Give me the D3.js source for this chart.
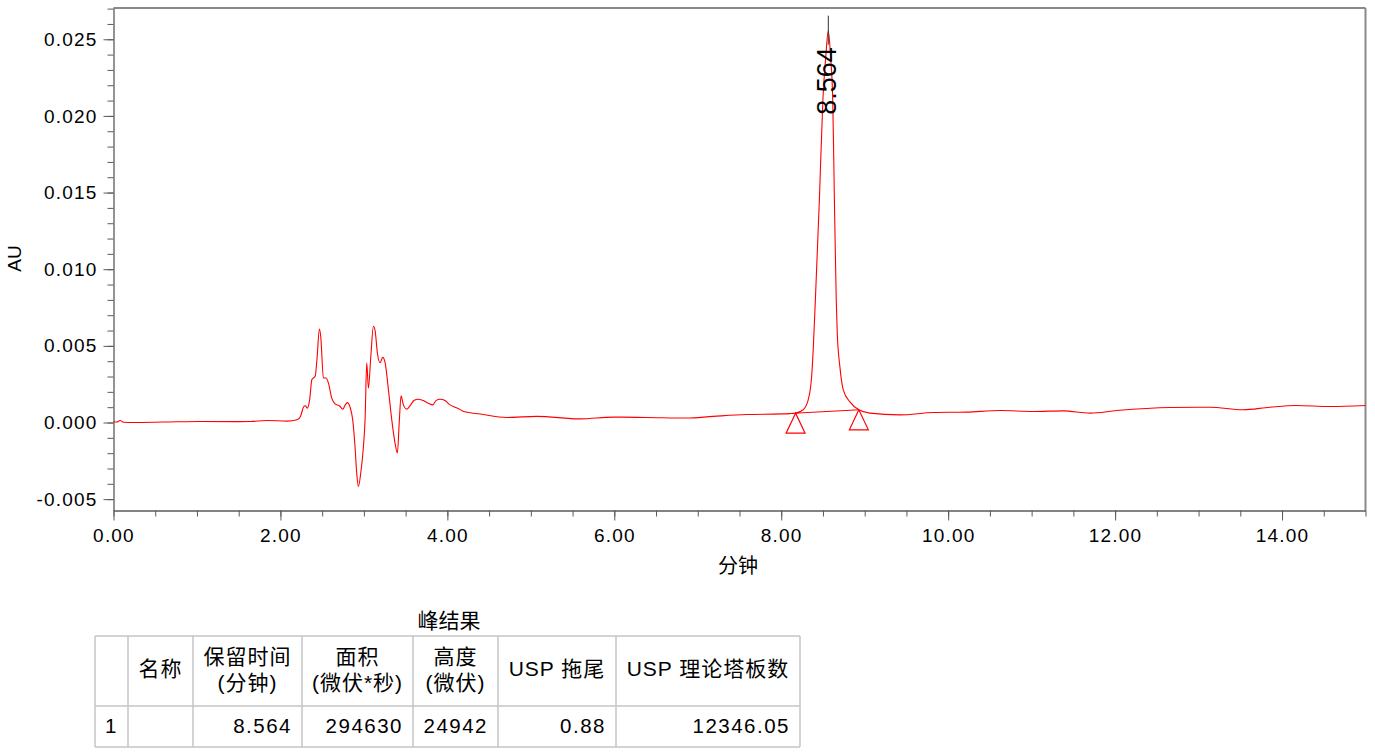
<!DOCTYPE html>
<html><head><meta charset="utf-8">
<script src="https://cdn.jsdelivr.net/npm/d3@7"></script>
<style>
body{margin:0;background:#fff}
svg{display:block}
text{font-family:"Liberation Sans",Arial,sans-serif;fill:#000}
.cjk{font-family:"Liberation Sans","Noto Sans CJK SC",sans-serif}
</style>
</head><body>
<svg id="c" width="1375" height="755"></svg>
<script>
// ---------- data ----------
const times = [
  0.00,0.04,0.08,0.12,0.24,0.60,1.04,1.50,1.64,1.84,2.08,2.20,2.24,2.28,2.30,2.32,2.35,2.377,2.417,2.437,
  2.467,2.483,2.515,2.547,2.575,2.615,2.655,2.707,2.747,2.775,2.802,2.834,2.866,2.894,2.914,2.934,2.962,2.994,3.014,3.034,
  3.054,3.083,3.114,3.134,3.162,3.194,3.226,3.254,3.294,3.334,3.373,3.401,3.425,3.445,3.473,3.513,3.551,3.599,3.651,3.711,
  3.771,3.824,3.864,3.912,3.972,4.031,4.092,4.144,4.196,4.395,4.714,5.071,5.59,5.99,6.388,6.867,7.186,7.585,7.904,8.00,
  8.10,8.172,8.263,8.323,8.364,8.383,8.409,8.457,8.499,8.535,8.564,8.590,8.617,8.637,8.659,8.671,8.703,8.743,8.823,8.93,
  9.062,9.421,9.82,10.22,10.62,11.02,11.38,11.70,12.02,12.66,13.14,13.53,13.853,14.17,14.57,15.00
];
const values = [
  0.00005,0.00003,0.00013,0.00002,0.00000,0.00003,0.00007,0.00006,0.00007,0.00013,0.00009,0.00018,0.00040,0.00104,0.00109,0.00094,0.00148,0.00280,0.00304,0.00408,
  0.00609,0.00561,0.00290,0.00290,0.00257,0.00159,0.00122,0.00109,0.00087,0.00113,0.00130,0.00100,0.00017,-0.00160,-0.00331,-0.00418,-0.00331,-0.00160,0.00017,0.00390,
  0.00224,0.00432,0.00628,0.00600,0.00452,0.00390,0.00425,0.00390,0.00213,0.00017,-0.00134,-0.00199,0.00017,0.00174,0.00115,0.00087,0.00108,0.00143,0.00152,0.00143,
  0.00126,0.00115,0.00143,0.00152,0.00143,0.00115,0.00100,0.00087,0.00072,0.00055,0.00033,0.00040,0.00024,0.00035,0.00033,0.00029,0.00040,0.00052,0.00055,0.00056,
  0.00058,0.00061,0.00083,0.00148,0.00298,0.00474,0.00800,0.01452,0.02104,0.02398,0.02556,0.02398,0.02104,0.01452,0.00800,0.00585,0.00363,0.00213,0.00135,0.00083,
  0.00061,0.00050,0.00065,0.00068,0.00078,0.00072,0.00076,0.00061,0.00078,0.00098,0.00100,0.00083,0.00100,0.00111,0.00104,0.00111
];
const peakTimes = [8.564];
const peakApex = [0.02556];
const peakLabels = ["8.564"];
const markerTimes = [8.172, 8.93];
const markerValues = [0.00061, 0.00083];

const xTicks = [0, 2, 4, 6, 8, 10, 12, 14];
const xTickLabels = ["0.00","2.00","4.00","6.00","8.00","10.00","12.00","14.00"];
const yTicks = [-0.005, 0, 0.005, 0.010, 0.015, 0.020, 0.025];
const yTickLabels = ["-0.005","0.000","0.005","0.010","0.015","0.020","0.025"];
const xLabel = "分钟";
const yLabel = "AU";

const tableTitle = "峰结果";
const tableHeaders = [[""],["名称"],["保留时间","(分钟)"],["面积","(微伏*秒)"],["高度","(微伏)"],["USP 拖尾"],["USP 理论塔板数"]];
const tableRow = ["1","","8.564","294630","24942","0.88","12346.05"];

// ---------- layout ----------
const svg = d3.select("#c");
const L = 113.5, R = 1365.5, T = 8, B = 510.5;
const x = d3.scaleLinear().domain([0, 15]).range([L, R]);
const y = d3.scaleLinear().domain([-0.00574, 0.02704]).range([B, T]);
const axisColor = "#5a5a5a";
const fontAxis = "19px";

// frame top/right
svg.append("line").attr("x1", L).attr("x2", R).attr("y1", T).attr("y2", T)
  .attr("stroke", "#8a8a8a").attr("stroke-width", 2);
svg.append("line").attr("x1", R).attr("x2", R).attr("y1", T).attr("y2", B)
  .attr("stroke", "#8a8a8a").attr("stroke-width", 2);

// minor ticks
const gxm = svg.append("g").attr("transform", `translate(0,${B})`)
  .call(d3.axisBottom(x).tickValues(d3.range(0, 15.001, 0.5)).tickSize(6).tickFormat("").tickSizeOuter(0));
gxm.select(".domain").remove();
const gym = svg.append("g").attr("transform", `translate(${L},0)`)
  .call(d3.axisLeft(y).tickValues(d3.range(-5, 27.5, 1).map(d => d / 1000)).tickSize(6).tickFormat("").tickSizeOuter(0));
gym.select(".domain").remove();
[gxm, gym].forEach(g => g.selectAll("line").attr("stroke", axisColor));

// major axes
const gx = svg.append("g").attr("transform", `translate(0,${B})`)
  .call(d3.axisBottom(x).tickValues(xTicks).tickSize(10).tickSizeOuter(0)
    .tickFormat((d, i) => xTickLabels[i]).tickPadding(8));
const gy = svg.append("g").attr("transform", `translate(${L},0)`)
  .call(d3.axisLeft(y).tickValues(yTicks).tickSize(10).tickSizeOuter(0)
    .tickFormat((d, i) => yTickLabels[i]).tickPadding(6));
[gx, gy].forEach(g => {
  g.select(".domain").attr("stroke", axisColor).attr("stroke-width", 1.3);
  g.selectAll(".tick line").attr("stroke", axisColor);
  g.selectAll("text").attr("font-size", fontAxis).attr("fill", "#000")
    .attr("font-family", "Liberation Sans, Arial, sans-serif").style("letter-spacing", "1.2px");
});

// axis titles
svg.append("text").attr("class", "cjk").attr("x", 738).attr("y", 573)
  .attr("text-anchor", "middle").attr("font-size", "20px").text(xLabel);
svg.append("text").attr("transform", `translate(21,${y(0.0107)}) rotate(-90)`)
  .attr("text-anchor", "middle").attr("font-size", "19px").text(yLabel);

// trace
const pts = times.map((t, i) => [t, values[i]]);
svg.append("path").datum(pts)
  .attr("fill", "none").attr("stroke", "#ff0000").attr("stroke-width", 1.1)
  .attr("d", d3.line().x(d => x(d[0])).y(d => y(d[1])).curve(d3.curveMonotoneX));

// baseline between markers
svg.append("line")
  .attr("x1", x(markerTimes[0])).attr("y1", y(markerValues[0]))
  .attr("x2", x(markerTimes[1])).attr("y2", y(markerValues[1]))
  .attr("stroke", "#ff0000").attr("stroke-width", 1);
// triangle markers
markerTimes.forEach((t, i) => {
  const px = x(t), py = y(markerValues[i]);
  svg.append("path")
    .attr("d", `M${px},${py} L${px - 9.5},${py + 20} L${px + 9.5},${py + 20} Z`)
    .attr("fill", "none").attr("stroke", "#ff0000").attr("stroke-width", 1.2);
});

// peak label
peakTimes.forEach((t, i) => {
  const px = x(t), py = y(peakApex[i]);
  svg.append("line").attr("x1", px).attr("x2", px).attr("y1", py + 14).attr("y2", py - 15)
    .attr("stroke", "#333").attr("stroke-width", 1);
  svg.append("text").attr("transform", `translate(${px + 7.5},${py + 84}) rotate(-90)`)
    .attr("text-anchor", "start").attr("font-size", "27px").text(peakLabels[i]);
});

// ---------- table ----------
const colEdges = [95, 128, 193, 302, 413, 498, 616, 800];
const tTop = 636, tMid = 706, tBot = 747;
const lineColor = "#c4c4c4";
svg.append("text").attr("class", "cjk").attr("x", 449).attr("y", 628)
  .attr("text-anchor", "middle").attr("font-size", "21px").text(tableTitle);
[tTop, tMid, tBot].forEach(yy => svg.append("line").attr("x1", colEdges[0]).attr("x2", colEdges[colEdges.length - 1])
  .attr("y1", yy).attr("y2", yy).attr("stroke", lineColor).attr("stroke-width", 1.5));
colEdges.forEach(xx => svg.append("line").attr("x1", xx).attr("x2", xx).attr("y1", tTop).attr("y2", tBot)
  .attr("stroke", lineColor).attr("stroke-width", 1.5));
tableHeaders.forEach((lines, i) => {
  const cx = (colEdges[i] + colEdges[i + 1]) / 2;
  const t = svg.append("text").attr("class", "cjk").attr("text-anchor", "middle").attr("font-size", "21px")
    .style("letter-spacing", "1px");
  if (lines.length === 1) {
    t.append("tspan").attr("x", cx).attr("y", 676).text(lines[0]);
  } else {
    t.append("tspan").attr("x", cx).attr("y", 664).text(lines[0]);
    t.append("tspan").attr("x", cx).attr("y", 690).text(lines[1]);
  }
});
tableRow.forEach((v, i) => {
  if (i === 0) {
    svg.append("text").attr("x", colEdges[0] + 10).attr("y", 733).attr("font-size", "20.5px").text(v);
  } else {
    svg.append("text").attr("x", colEdges[i + 1] - 10).attr("y", 733).attr("text-anchor", "end")
      .attr("font-size", "20.5px").style("letter-spacing", "1.5px").text(v);
  }
});
</script>
</body></html>
